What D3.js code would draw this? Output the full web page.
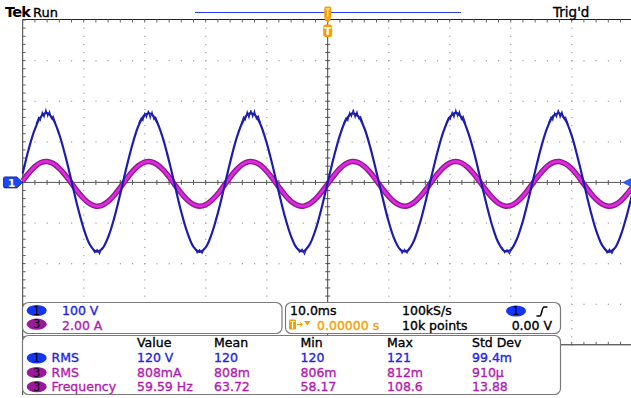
<!DOCTYPE html>
<html><head><meta charset="utf-8">
<script src="https://cdn.jsdelivr.net/npm/d3@7"></script>
<style>body{margin:0;background:#fff}svg{display:block}text{font-family:"DejaVu Sans",sans-serif}
.w{stroke-width:0.35px;paint-order:stroke}</style>
</head><body><svg id="c" width="631" height="398"></svg>
<script>
// ---- data ----
const sampleStartMs = -50, sampleStepMs = 1;   // one sample per ms, -50 ms .. +50 ms
const ch1Volts = [22,83,131,162,171,155,118,65,3,-60,-114,-153,-170,-164,-135,-88,-28,36,94,140,166,169,149,108,52,-11,-73,-124,-159,-171,-160,-126,-75,-14,49,106,147,169,167,142,97,39,-25,-85,-133,-163,-170,-154,-117,-63,0,62,116,154,170,163,134,85,25,-38,-97,-142,-167,-169,-148,-106,-50,14,75,126,160,171,159,124,73,11,-52,-108,-149,-169,-166,-140,-95,-36,27,87,135,164,170,153,115,60,-2,-65,-118,-155,-171,-163,-132,-83,-23];
const ch3Amps = [0.07,0.46,0.78,0.98,1.03,0.93,0.69,0.35,-0.05,-0.45,-0.80,-1.05,-1.17,-1.13,-0.94,-0.63,-0.25,0.16,0.54,0.83,1.00,1.02,0.89,0.63,0.27,-0.14,-0.54,-0.87,-1.09,-1.17,-1.10,-0.88,-0.56,-0.16,0.25,0.61,0.88,1.02,1.00,0.84,0.55,0.18,-0.23,-0.62,-0.93,-1.12,-1.17,-1.06,-0.82,-0.47,-0.07,0.33,0.68,0.92,1.03,0.98,0.79,0.48,0.09,-0.32,-0.69,-0.98,-1.14,-1.16,-1.02,-0.75,-0.39,0.02,0.41,0.74,0.96,1.03,0.95,0.73,0.40,0.00,-0.40,-0.76,-1.03,-1.16,-1.14,-0.97,-0.68,-0.30,0.11,0.49,0.80,0.99,1.03,0.91,0.67,0.32,-0.09,-0.49,-0.83,-1.07,-1.17,-1.12,-0.92,-0.60,-0.22];
// CH1 noise around crests and troughs (ms, V)
const ch1NoiseMs = [
  -47.8,-47.4,-47.1,-46.8,-46.5,-46.2,-45.9,-45.6,-45.3,-45.0,-44.6,
  -31.0,-30.6,-30.3,-30.0,-29.7,-29.4,-29.1,-28.8,-28.5,-28.2,-27.8,
  -14.2,-13.8,-13.5,-13.2,-12.9,-12.6,-12.3,-12.0,-11.7,-11.4,-11.0,
  2.6,3.0,3.3,3.6,3.9,4.2,4.5,4.8,5.1,5.4,5.8,
  19.4,19.8,20.1,20.4,20.7,21.0,21.3,21.6,21.9,22.2,22.6,
  36.2,36.6,36.9,37.2,37.5,37.8,38.1,38.4,38.7,39.0,39.4,
  -38.6,-38.2,-37.8,-37.4,-37.0,
  -21.8,-21.4,-21.0,-20.6,-20.2,
  -5.0,-4.6,-4.2,-3.8,-3.4,
  11.8,12.2,12.6,13.0,13.4,
  28.6,29.0,29.4,29.8,30.2,
  45.4,45.8,46.2,46.6,47.0];
const ch1NoiseV = [
  144,160,153,173,161,179,163,175,157,163,145,
  145,158,152,170,160,177,158,173,155,161,144,
  143,161,154,174,159,178,161,176,156,164,146,
  145,159,152,172,162,180,160,174,157,162,144,
  144,160,155,173,160,178,163,175,155,163,145,
  146,161,153,171,161,179,160,174,158,161,144,
  -162,-173,-165,-176,-161,
  -161,-174,-166,-175,-162,
  -163,-172,-164,-177,-160,
  -162,-175,-165,-174,-161,
  -160,-173,-166,-176,-162,
  -161,-174,-164,-175,-163];
const timeMajorMs = [-50,-40,-30,-20,-10,0,10,20,30,40,50];
const voltMajor = [-400,-300,-200,-100,0,100,200,300,400];
const minorPerDiv = 5;
const scaleLabels = ["100 V","2.00 A"];
const timebaseTexts = ["10.0ms","100kS/s","0.00000 s","10k points","0.00 V"];
const measHeaders = ["Value","Mean","Min","Max","Std Dev"];
const measRowNames = ["RMS","RMS","Frequency"];
const measRowChannels = ["1","3","3"];
const measValues = [
  ["120 V","120","120","121","99.4m"],
  ["808mA","808m","806m","812m","910µ"],
  ["59.59 Hz","63.72","58.17","108.6","13.88"]
];

// ---- layout ----
const W=631,H=398;
const L=22.7, R=632.7, T=20, B=344.8;
const BLUE="#2424e6", MAG="#b01cb0", ORANGE="#f5a000";
const chColor={"1":"#1436f2","3":"#9a189a"};
const svg=d3.select("#c");
const x=d3.scaleLinear().domain([-50,50]).range([L,R]);
const yV=d3.scaleLinear().domain([-400,400]).range([B,T]);
const yA=d3.scaleLinear().domain([-8,8]).range([B,T]);
const minorT=d3.range(-50,50.001,10/minorPerDiv);
const minorV=d3.range(-400,400.001,100/minorPerDiv);

// graticule dots
const gDots=svg.append("g").attr("fill","#a0a0a0");
timeMajorMs.filter(t=>t!==0&&Math.abs(t)!==50).forEach(t=>{
  minorV.forEach(v=>gDots.append("rect").attr("x",x(t)-0.5).attr("y",yV(v)-0.5).attr("width",1.2).attr("height",1.2));
});
voltMajor.filter(v=>v!==0&&Math.abs(v)!==400).forEach(v=>{
  minorT.forEach(t=>gDots.append("rect").attr("x",x(t)-0.5).attr("y",yV(v)-0.5).attr("width",1.2).attr("height",1.2));
});
// frame
const gF=svg.append("g").attr("stroke","#3a3a3a").attr("stroke-width",1);
gF.append("line").attr("x1",L).attr("x2",W).attr("y1",T-0.5).attr("y2",T-0.5).attr("stroke","#222");
gF.append("line").attr("x1",L).attr("x2",W).attr("y1",B).attr("y2",B).attr("stroke","#222");
gF.append("line").attr("x1",L).attr("x2",L).attr("y1",T-0.5).attr("y2",395);
minorT.forEach(t=>{
  gF.append("line").attr("x1",x(t)).attr("x2",x(t)).attr("y1",T-0.5).attr("y2",T+2.5).attr("stroke","#666");
  gF.append("line").attr("x1",x(t)).attr("x2",x(t)).attr("y1",B-3).attr("y2",B).attr("stroke","#666");
  gF.append("line").attr("x1",x(t)).attr("x2",x(t)).attr("y1",yV(0)-2.5).attr("y2",yV(0)+2.5).attr("stroke","#555");
});
minorV.forEach(v=>{
  gF.append("line").attr("x1",L).attr("x2",L+3).attr("y1",yV(v)).attr("y2",yV(v)).attr("stroke","#666");
  gF.append("line").attr("x1",x(0)-2.5).attr("x2",x(0)+2.5).attr("y1",yV(v)).attr("y2",yV(v)).attr("stroke","#555");
});
gF.append("line").attr("x1",L).attr("x2",W).attr("y1",yV(0)).attr("y2",yV(0)).attr("stroke","#555");
gF.append("line").attr("x1",x(0)).attr("x2",x(0)).attr("y1",T).attr("y2",B).attr("stroke","#444");

// traces
const tOf=i=>sampleStartMs+i*sampleStepMs;
const lineA=d3.line().x((d,i)=>x(tOf(i))).y(d=>yA(d)).curve(d3.curveCatmullRom);
const lineV=d3.line().x((d,i)=>x(tOf(i))).y(d=>yV(d)).curve(d3.curveCatmullRom);
svg.append("path").datum(ch3Amps).attr("d",lineA).attr("fill","none").attr("stroke","#8c1c8c").attr("stroke-width",5.5);
svg.append("path").datum(ch3Amps).attr("d",lineA).attr("fill","none").attr("stroke","#e028e0").attr("stroke-width",2.8);
svg.append("path").datum(ch1Volts).attr("d",lineV).attr("fill","none").attr("stroke","#1c1cae").attr("stroke-width",2.2);
// noise zigzags, grouped by contiguous time runs
const groups=[]; ch1NoiseMs.forEach((t,i)=>{
  if(i===0||Math.abs(t-ch1NoiseMs[i-1])>1) groups.push([]);
  groups[groups.length-1].push([t,ch1NoiseV[i]]);
});
const zz=d3.line().x(d=>x(d[0])).y(d=>yV(d[1]));
svg.append("g").selectAll("path").data(groups).join("path").attr("d",zz)
  .attr("fill","none").attr("stroke","#1c1cae").attr("stroke-width",1.1).attr("stroke-linejoin","miter");

// channel 1 marker (left) and trigger level (right)
const y0=yV(0);
svg.append("path").attr("d",`M5,${y0-5.5} H17 L22.5,${y0} L17,${y0+5.5} H5 Q3.5,${y0+5.5} 3.5,${y0+4} V${y0-4} Q3.5,${y0-5.5} 5,${y0-5.5} Z`)
  .attr("fill","#1f46f5").attr("stroke","#0a1c90").attr("stroke-width",0.8);
svg.append("text").attr("x",11.5).attr("y",y0+4.2).attr("text-anchor","middle").attr("font-size",11).attr("font-weight","bold").attr("fill","#fff").text("1");
svg.append("path").attr("d",`M622,${y0} L631,${y0-4.5} L631,${y0+4.5} Z`).attr("fill","#2f5cf5");

// top bar
svg.append("text").attr("x",5).attr("y",17).attr("font-family","Liberation Sans").attr("font-weight","bold").attr("font-size",14.5).attr("letter-spacing",-0.8).attr("fill","#000").text("Tek");
svg.append("text").attr("x",33).attr("y",17).attr("font-size",13).attr("fill","#000").attr("class","w").attr("stroke","#000").text("Run");
svg.append("text").attr("x",553).attr("y",17).attr("font-size",13.5).attr("fill","#000").attr("class","w").attr("stroke","#000").text("Trig'd");
svg.append("line").attr("x1",195).attr("x2",461).attr("y1",12.5).attr("y2",12.5).attr("stroke","#2b3cf0").attr("stroke-width",1.2);
const xc=x(0);
svg.append("rect").attr("x",xc-3.5).attr("y",6.5).attr("width",7).attr("height",12).attr("rx",1.5).attr("fill",ORANGE);
svg.append("path").attr("d",`M${xc-2},9 H${xc+2} M${xc},9 V17`).attr("stroke","#fff").attr("stroke-width",1.2);
svg.append("path").attr("d",`M${xc-3.5},18.5 L${xc+3.5},18.5 L${xc},23 Z`).attr("fill",ORANGE);
svg.append("rect").attr("x",xc-4.5).attr("y",24.5).attr("width",9).attr("height",12.5).attr("rx",2.5).attr("fill",ORANGE);
svg.append("text").attr("x",xc).attr("y",35).attr("text-anchor","middle").attr("font-size",11).attr("font-weight","bold").attr("fill","#fff").text("T");

// panels
const gp=svg.append("g").attr("fill","#fff").attr("stroke","#7a7a7a").attr("stroke-width",1.2);
gp.append("rect").attr("x",22.5).attr("y",302.5).attr("width",259.5).attr("height",31).attr("rx",6);
gp.append("rect").attr("x",285.5).attr("y",302.5).attr("width",275).attr("height",31).attr("rx",6);
gp.append("rect").attr("x",22.5).attr("y",335.5).attr("width",538).attr("height",59).attr("rx",6);

function badge(cx,cy,ch){
  svg.append("ellipse").attr("cx",cx).attr("cy",cy).attr("rx",10).attr("ry",5.6).attr("fill",chColor[ch]);
  svg.append("text").attr("x",cx).attr("y",cy+4.2).attr("text-anchor","middle").attr("font-size",11.5).attr("fill","#000").text(ch);
}
const FS=12.5;
function txt(xp,yp,s,col,anchor){
  return svg.append("text").attr("x",xp).attr("y",yp).attr("font-size",FS).attr("fill",col).attr("stroke",col)
    .attr("class","w").attr("text-anchor",anchor||"start").text(s);
}
badge(36.7,310.5,"1"); badge(36.7,324.2,"3");
txt(62,315,scaleLabels[0],BLUE);
txt(62,329.5,scaleLabels[1],MAG);

// timebase panel
txt(290,315,timebaseTexts[0],"#000");
txt(402,315,timebaseTexts[1],"#000");
badge(516,311,"1");
svg.append("path").attr("d","M536.5,316 H540 C541.5,316 542,307 544,307 H547.5").attr("fill","none").attr("stroke","#000").attr("stroke-width",1.6);
svg.append("rect").attr("x",289).attr("y",319.5).attr("width",7).attr("height",10).attr("rx",1.2).attr("fill",ORANGE);
svg.append("path").attr("d","M290.3,321.5 H294.7 M292.5,321.5 V328.5").attr("stroke","#fff").attr("stroke-width",1.2);
svg.append("path").attr("d","M297,324.5 H302 M300,322.5 L302.5,324.5 L300,326.5").attr("fill","none").attr("stroke",ORANGE).attr("stroke-width",1);
svg.append("path").attr("d","M304,321 H310.5 L307.25,325.5 Z").attr("fill",ORANGE);
txt(317,329.5,timebaseTexts[2],ORANGE);
txt(402,329.5,timebaseTexts[3],"#000");
txt(552,329.5,timebaseTexts[4],"#000","end");

// measurements
const colX=[137,214,300.5,387,472];
const rowY=[361.7,376.7,390.7];
const rowBadgeY=[358,372.5,386.7];
measHeaders.forEach((h,j)=>txt(colX[j],347.3,h,"#000"));
measRowNames.forEach((n,i)=>{
  const col=measRowChannels[i]==="1"?BLUE:MAG;
  badge(36.7,rowBadgeY[i],measRowChannels[i]);
  txt(51.5,rowY[i],n,col);
  measValues[i].forEach((v,j)=>txt(colX[j],rowY[i],v,col));
});
</script></body></html>
